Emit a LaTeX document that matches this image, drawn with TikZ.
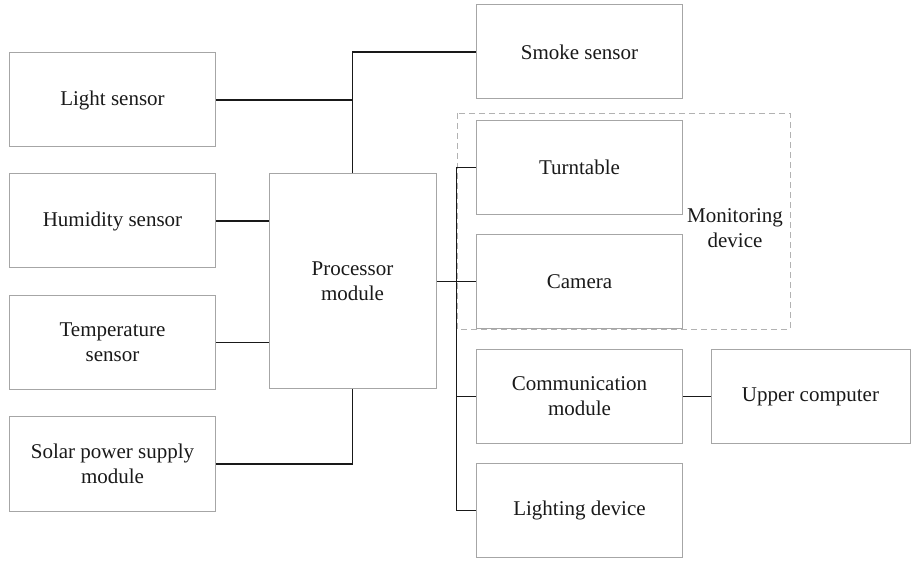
\documentclass[tikz,border=0pt]{standalone}
\usepackage{fontspec}
\setmainfont{Liberation Serif}
\usetikzlibrary{positioning,calc}

\begin{document}
\begin{tikzpicture}[
  x=0.5pt, y=-0.5pt,
  unit/.style={rectangle, draw=black!35, line width=0.5pt, minimum width=103pt, minimum height=47pt, align=center, font=\fontsize{10.5}{12.5}\selectfont, text=black!90, inner sep=1pt},
  wire/.style={line width=0.9pt, draw=black!90},
  thinwire/.style={line width=0.55pt, draw=black!90},
  group/.style={dashed, draw=black!30, line width=0.4pt, dash pattern=on 3pt off 2pt},
]
  \useasboundingbox (0,0) rectangle (911,561);

  % sensors on the left
  \node[unit] (light) at (112.5,100) {Light sensor};
  \node[unit] (humid) at (112.5,221) {Humidity sensor};
  \node[unit] (temp) at (112.5,342.5) {Temperature\\sensor};
  \node[unit] (solar) at (112.5,464) {Solar power supply\\module};

  \node[unit, minimum width=83.5pt, minimum height=107.5pt] (proc) at (352.5,281.5) {Processor\\module};

  % right column
  \node[unit] (smoke) at (579.5,52) {Smoke sensor};
  \node[unit] (turn) at (579.5,167.5) {Turntable};
  \node[unit] (cam) at (579.5,281.5) {Camera};
  \node[unit] (comm) at (579.5,396.5) {Communication\\module};
  \node[unit, minimum width=99.5pt] (upper) at (810.5,396.5) {Upper computer};
  \node[unit] (lamp) at (579.5,510.5) {Lighting device};

  \draw[group] (457,113) rectangle (790,329);
  \node[font=\fontsize{10.5}{12.5}\selectfont, align=center, text=black!90] (mon) at (735,228) {Monitoring\\device};

  \coordinate (bus) at ([xshift=10pt]proc.east);

  \draw[wire] (proc.north) |- (smoke.west);
  \draw[wire] (light.east) -- (light.east -| proc.north);
  \draw[thinwire] (humid.east) -- (humid.east -| proc.west);
  \draw[thinwire] (temp.east) -- (temp.east -| proc.west);
  \draw[wire] (solar.east) -| (proc.south);

  \draw[wire] (proc.east) -- (bus);
  \draw[wire] (turn.west) -| (bus) |- (lamp.west);
  \draw[thinwire] (bus |- cam.west) -- (cam.west);
  \draw[thinwire] (bus |- comm.west) -- (comm.west);
  \draw[thinwire] (comm.east) -- (upper.west);
\end{tikzpicture}
\end{document}
